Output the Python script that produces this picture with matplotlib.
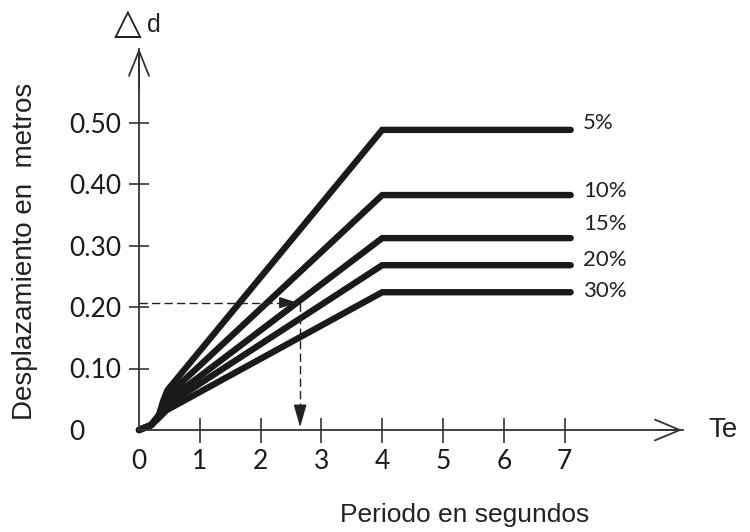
import numpy as np
import matplotlib.pyplot as plt

# damping ratios and the spectra (period in s, displacement in m)
labels = ['5%', '10%', '15%', '20%', '30%']
T_5 = [0, 0.2, 0.33, 0.4, 0.47, 4.0, 7.1]
d_5 = [0, 0.008, 0.025, 0.048, 0.065, 0.488, 0.488]
T_10 = [0, 0.2, 0.33, 0.4, 0.46, 4.0, 7.1]
d_10 = [0, 0.008, 0.024, 0.042, 0.055, 0.382, 0.382]
T_15 = [0, 0.2, 0.33, 0.45, 4.0, 7.1]
d_15 = [0, 0.008, 0.023, 0.046, 0.312, 0.312]
T_20 = [0, 0.2, 0.33, 0.45, 4.0, 7.1]
d_20 = [0, 0.008, 0.022, 0.040, 0.268, 0.268]
T_30 = [0, 0.2, 0.33, 0.45, 4.0, 7.1]
d_30 = [0, 0.008, 0.020, 0.032, 0.224, 0.224]
label_y = [0.499, 0.389, 0.335, 0.276, 0.226]

# reading example (dashed)
T_read = 2.65
d_read = 0.207

x_ticks = [0, 1, 2, 3, 4, 5, 6, 7]
y_ticks = [0, 0.10, 0.20, 0.30, 0.40, 0.50]
y_ticklabels = ['0', '0.10', '0.20', '0.30', '0.40', '0.50']

fig = plt.figure(figsize=(7.5, 5.32), dpi=100)
ax = fig.add_axes([0, 0, 1, 1])
ax.set_xlim(-139 / 60.8, 611 / 60.8)
ax.set_ylim(-102 / 615, 430 / 615)

series = [(T_5, d_5), (T_10, d_10), (T_15, d_15), (T_20, d_20), (T_30, d_30)]
for (T, d), lab, ly in zip(series, labels, label_y):
    ax.plot(T, d, color='#1a1a1a', lw=4.6, solid_capstyle='round', solid_joinstyle='miter')
    ax.text(7.3, ly, lab, fontsize=16, family='Lato', color='#222222', va='center', ha='left')

# axes through the origin
for s in ['top', 'right']:
    ax.spines[s].set_visible(False)
ax.spines['left'].set_position(('data', 0))
ax.spines['bottom'].set_position(('data', 0))
ax.spines['left'].set_bounds(0, 0.62)
ax.spines['bottom'].set_bounds(0, 8.95)
for s in ['left', 'bottom']:
    ax.spines[s].set_color('#333333')
    ax.spines[s].set_linewidth(1.3)

ax.annotate('', xy=(8.98, 0), xytext=(8.5, 0),
            arrowprops=dict(arrowstyle='->,head_length=1.8,head_width=0.75', lw=1.3, color='#333333'))
ax.annotate('', xy=(0, 0.625), xytext=(0, 0.55),
            arrowprops=dict(arrowstyle='->,head_length=1.8,head_width=0.72', lw=1.3, color='#333333'))

ax.set_xticks(x_ticks)
ax.set_xticklabels([str(t) for t in x_ticks])
ax.set_yticks(y_ticks)
ax.set_yticklabels(y_ticklabels, ha='left')
ax.tick_params(axis='x', direction='inout', length=18, width=1.2, color='#333333', pad=5,
               labelsize=19, labelcolor='#1a1a1a')
ax.tick_params(axis='y', direction='inout', length=14, width=1.2, color='#333333', pad=43,
               labelsize=19, labelcolor='#1a1a1a')
for lab in ax.get_xticklabels() + ax.get_yticklabels():
    lab.set_family('Lato')
ax.xaxis.get_major_ticks()[0].tick1line.set_visible(False)
ax.yaxis.get_major_ticks()[0].tick1line.set_visible(False)

# dashed reading lines with arrows
ax.plot([0, T_read], [d_read, d_read], color='#222222', lw=1.0, ls=(0, (6, 3)))
ax.plot([T_read, T_read], [d_read, 0.02], color='#222222', lw=1.0, ls=(0, (6, 3)))
ax.annotate('', xy=(T_read, d_read), xytext=(T_read - 0.25, d_read),
            arrowprops=dict(arrowstyle='-|>,head_length=1.1,head_width=0.35', lw=1.0, color='#222222'))
ax.annotate('', xy=(T_read, 0.0), xytext=(T_read, 0.03),
            arrowprops=dict(arrowstyle='-|>,head_length=1.4,head_width=0.4', lw=1.0, color='#222222'))

# labels
ax.text(-1.875, 0.291, 'Desplazamiento en  metros', rotation=90, fontsize=20,
        family='Liberation Sans', color='#222222', ha='center', va='center')
ax.text(5.36, -0.138, 'Periodo en segundos', fontsize=19,
        family='Liberation Sans', color='#222222', ha='center', va='center')
ax.text(9.36, 0.0, 'Te', fontsize=20, family='Liberation Sans', color='#222222',
        ha='left', va='center')
ax.text(-0.42, 0.661, '\u25b3', fontsize=26, family='DejaVu Sans', color='#222222',
        ha='left', va='center')
ax.text(0.13, 0.658, 'd', fontsize=18, family='Liberation Sans', color='#222222',
        ha='left', va='center')

fig.savefig('out.png', dpi=100)
